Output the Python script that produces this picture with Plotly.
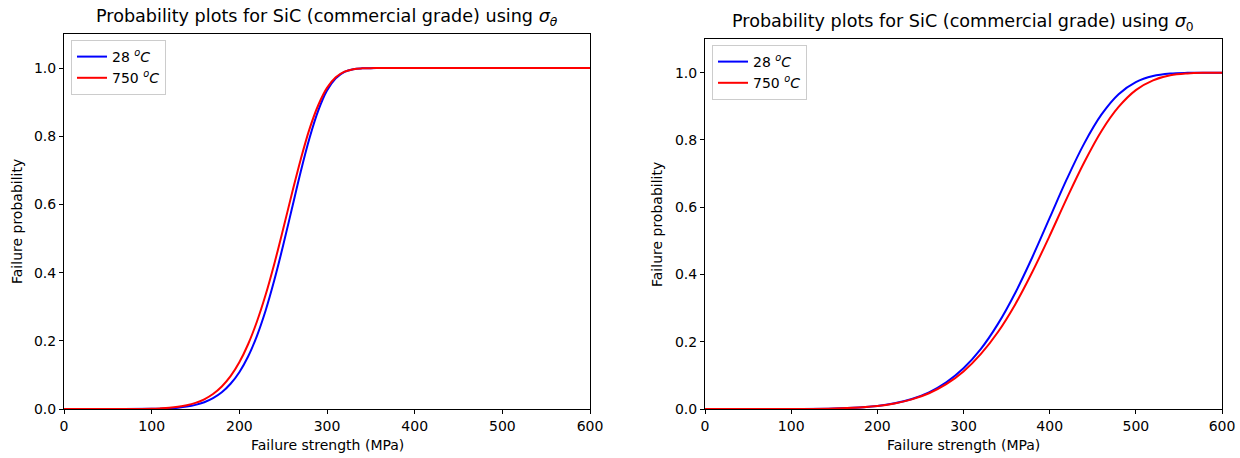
import plotly.graph_objects as go

# ---- data ----
x_left = [0, 50, 100, 110, 120, 130, 140, 150, 160, 170, 180, 190, 200, 210, 220, 230, 240, 250, 260,
          270, 280, 290, 300, 310, 320, 330, 340, 350, 360, 400, 450, 500, 550, 600]
left_28 = [0.0, 0.0, 0.0005, 0.0011, 0.0021, 0.0040, 0.0071, 0.0121, 0.0198, 0.0318, 0.049, 0.074, 0.108,
           0.154, 0.214, 0.289, 0.379, 0.480, 0.588, 0.696, 0.794, 0.875, 0.934, 0.970, 0.989, 0.9967,
           0.9992, 0.9999, 1.0, 1.0, 1.0, 1.0, 1.0, 1.0]
left_750 = [0.0, 0.0, 0.0009, 0.0019, 0.0035, 0.0063, 0.0108, 0.0179, 0.0285, 0.0439, 0.066, 0.0963, 0.137,
            0.190, 0.256, 0.335, 0.427, 0.528, 0.632, 0.732, 0.821, 0.891, 0.942, 0.973, 0.9894, 0.9967,
            0.9992, 0.9998, 1.0, 1.0, 1.0, 1.0, 1.0, 1.0]

x_right = [0, 50, 100, 150, 200, 220, 240, 260, 280, 300, 320, 340, 360, 380, 400, 420, 440, 460, 480, 500,
           520, 540, 560, 580, 600]
right_28 = [0.0, 0.0, 0.0001, 0.0014, 0.0092, 0.0171, 0.0299, 0.0496, 0.0792, 0.121, 0.178, 0.253, 0.345,
            0.452, 0.568, 0.684, 0.789, 0.875, 0.936, 0.972, 0.990, 0.9973, 0.9994, 0.9999, 1.0]
right_750 = [0.0, 0.0, 0.0001, 0.0015, 0.0092, 0.0166, 0.0286, 0.0469, 0.0737, 0.1116, 0.163, 0.229, 0.311,
             0.408, 0.515, 0.627, 0.733, 0.826, 0.898, 0.948, 0.977, 0.992, 0.9976, 0.9995, 0.9999]

series_names = ["28 <sup><i>o</i></sup><i>C</i>", "750 <sup><i>o</i></sup><i>C</i>"]
x_ticks = [0, 100, 200, 300, 400, 500, 600]
y_ticks = [0.0, 0.2, 0.4, 0.6, 0.8, 1.0]
titles = ["Probability plots for SiC (commercial grade) using <i>σ</i><sub><i>θ</i></sub>",
          "Probability plots for SiC (commercial grade) using <i>σ</i><sub>0</sub>"]
x_label = "Failure strength (MPa)"
y_label = "Failure probability"

W, H = 1240, 458
FONT = "DejaVu Sans"

def px_x(p):
    return p / W

def px_y(p):
    return 1 - p / H

fig = go.Figure()
line_kw = dict(shape="spline", smoothing=1.0, width=2)
fig.add_trace(go.Scatter(x=x_left, y=left_28, mode="lines", name=series_names[0],
                         line=dict(color="#0000ff", **line_kw), xaxis="x", yaxis="y", legend="legend"))
fig.add_trace(go.Scatter(x=x_left, y=left_750, mode="lines", name=series_names[1],
                         line=dict(color="#ff0000", **line_kw), xaxis="x", yaxis="y", legend="legend"))
fig.add_trace(go.Scatter(x=x_right, y=right_28, mode="lines", name=series_names[0],
                         line=dict(color="#0000ff", **line_kw), xaxis="x2", yaxis="y2", legend="legend2"))
fig.add_trace(go.Scatter(x=x_right, y=right_750, mode="lines", name=series_names[1],
                         line=dict(color="#ff0000", **line_kw), xaxis="x2", yaxis="y2", legend="legend2"))

axis_common = dict(showline=True, linecolor="black", linewidth=1, mirror=True,
                   ticks="outside", ticklen=4, tickwidth=1, tickcolor="black",
                   showgrid=False, zeroline=False, automargin=False,
                   tickfont=dict(family=FONT, size=14, color="black"))

L_dom = [px_x(64), px_x(590)]
R_dom = [px_x(705), px_x(1222)]
legend_common = dict(xanchor="left", yanchor="top",
                     bgcolor="rgba(255,255,255,0.8)", bordercolor="#cccccc", borderwidth=1,
                     font=dict(family=FONT, size=14, color="black"), itemwidth=30, tracegroupgap=0)
fig.update_layout(
    width=W, height=H,
    margin=dict(l=0, r=0, t=0, b=0, autoexpand=False),
    paper_bgcolor="white", plot_bgcolor="white",
    font=dict(family=FONT, color="black"),
    xaxis=dict(domain=L_dom, range=[0, 600], tickvals=x_ticks, anchor="y", **axis_common),
    yaxis=dict(domain=[px_y(409), px_y(34)], range=[0, 1.1], tickvals=y_ticks, tickformat=".1f", anchor="x", **axis_common),
    xaxis2=dict(domain=R_dom, range=[0, 600], tickvals=x_ticks, anchor="y2", **axis_common),
    yaxis2=dict(domain=[px_y(409), px_y(39)], range=[0, 1.1], tickvals=y_ticks, tickformat=".1f", anchor="x2", **axis_common),
    legend=dict(x=px_x(71), y=px_y(40), **legend_common),
    legend2=dict(x=px_x(712), y=px_y(45), **legend_common),
    showlegend=True,
)

ann = []
ann.append(dict(x=px_x(327), y=px_y(17), text=titles[0], showarrow=False, xref="paper", yref="paper",
                xanchor="center", yanchor="middle", font=dict(family=FONT, size=17.6, color="black")))
ann.append(dict(x=px_x(963), y=px_y(23), text=titles[1], showarrow=False, xref="paper", yref="paper",
                xanchor="center", yanchor="middle", font=dict(family=FONT, size=17.6, color="black")))
for cx in [327, 963]:
    ann.append(dict(x=px_x(cx), y=px_y(445), text=x_label, showarrow=False, xref="paper", yref="paper",
                    xanchor="center", yanchor="middle", font=dict(family=FONT, size=14, color="black")))
ann.append(dict(x=px_x(17), y=px_y(222), text=y_label, showarrow=False, xref="paper", yref="paper", textangle=-90,
                xanchor="center", yanchor="middle", font=dict(family=FONT, size=14, color="black")))
ann.append(dict(x=px_x(657), y=px_y(224), text=y_label, showarrow=False, xref="paper", yref="paper", textangle=-90,
                xanchor="center", yanchor="middle", font=dict(family=FONT, size=14, color="black")))
fig.update_layout(annotations=ann)

fig.write_html("out.html")
